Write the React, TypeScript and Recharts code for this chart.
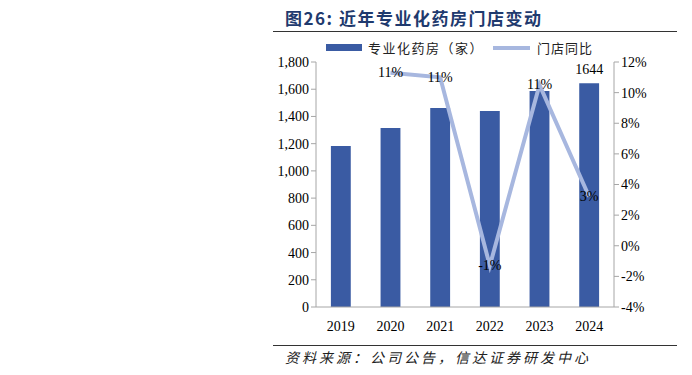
import React from "react";
import { ComposedChart, Bar, Line, XAxis, YAxis, LabelList } from "recharts";

const years = ["2019", "2020", "2021", "2022", "2023", "2024"];
const storeCounts = [1183, 1315, 1462, 1440, 1587, 1644];
const storeYoY = [null, 11.3, 11.0, -1.3, 10.5, 3.2];
const leftTicks = [0, 200, 400, 600, 800, 1000, 1200, 1400, 1600, 1800];
const rightTicks = [-4, -2, 0, 2, 4, 6, 8, 10, 12];

const rows = years.map((year, i) => ({
  year,
  stores: storeCounts[i],
  yoy: storeYoY[i],
}));

const BAR = "#3A5BA3";
const LINE = "#A7B7DF";
const AXIS = "#A6A6A6";
const SERIF = "'Liberation Serif', 'Times New Roman', serif";
const CJK = "'Noto Sans CJK SC', sans-serif";

const tickStyle = { fill: "#000", fontSize: 14, fontFamily: SERIF };

function YoyLabel(props: any) {
  const { x, y, value } = props;
  if (value == null) return null;
  return (
    <text x={x} y={y} textAnchor="middle" dominantBaseline="central" fill="#000" fontSize={14} fontFamily={SERIF}>
      {Math.round(value)}%
    </text>
  );
}

function TopLabel(props: any) {
  const { x, y, width, value, index } = props;
  // only the last bar carries a value label in the source
  if (index !== years.length - 1) return null;
  return (
    <text x={x + width / 2} y={y - 9} textAnchor="middle" fill="#000" fontSize={14} fontFamily={SERIF}>
      {value}
    </text>
  );
}

export default function App() {
  return (
    <div style={{ position: "absolute", left: 0, top: 0, width: 692, height: 375, background: "#fff" }}>
      <div
        style={{
          position: "absolute",
          left: 285,
          top: 5,
          fontFamily: CJK,
          fontWeight: 700,
          fontSize: 17,
          letterSpacing: 1.5,
          color: "#1F3A6E",
          whiteSpace: "nowrap",
        }}
      >
        图26: 近年专业化药房门店变动
      </div>
      <div style={{ position: "absolute", left: 273, top: 31, width: 404, height: 1, background: "#333" }} />

      {/* legend drawn by hand to match the report layout */}
      <div style={{ position: "absolute", left: 326, top: 44, width: 36, height: 7, background: BAR }} />
      <div style={{ position: "absolute", left: 368, top: 38, fontFamily: CJK, fontSize: 13, color: "#222", whiteSpace: "nowrap", letterSpacing: 1.5 }}>
        专业化药房（家）
      </div>
      <div style={{ position: "absolute", left: 493, top: 46, width: 37, height: 4, background: LINE }} />
      <div style={{ position: "absolute", left: 537, top: 38, fontFamily: CJK, fontSize: 13, color: "#222", whiteSpace: "nowrap", letterSpacing: 1 }}>
        门店同比
      </div>

      <div style={{ position: "absolute", left: 0, top: 0 }}>
        <ComposedChart
          width={692}
          height={375}
          data={rows}
          margin={{ top: 62, right: 18, bottom: 38, left: 256 }}
          barCategoryGap="70%"
        >
          <XAxis
            dataKey="year"
            axisLine={{ stroke: AXIS }}
            tickLine={false}
            tick={tickStyle}
            height={30}
            tickMargin={8}
          />
          <YAxis
            yAxisId="left"
            width={60}
            domain={[0, 1800]}
            ticks={leftTicks}
            interval={0}
            tickFormatter={(v: number) => v.toLocaleString("en-US")}
            axisLine={{ stroke: AXIS }}
            tickLine={{ stroke: AXIS }}
            tickSize={5}
            tick={tickStyle}
          />
          <YAxis
            yAxisId="right"
            orientation="right"
            width={60}
            domain={[-4, 12]}
            ticks={rightTicks}
            interval={0}
            tickFormatter={(v: number) => `${v}%`}
            axisLine={{ stroke: AXIS }}
            tickLine={{ stroke: AXIS }}
            tickSize={5}
            tick={tickStyle}
          />
          <Bar yAxisId="left" dataKey="stores" fill={BAR} isAnimationActive={false}>
            <LabelList dataKey="stores" content={<TopLabel />} />
          </Bar>
          <Line
            yAxisId="right"
            dataKey="yoy"
            stroke={LINE}
            strokeWidth={4}
            dot={false}
            activeDot={false}
            connectNulls={false}
            isAnimationActive={false}
          >
            <LabelList dataKey="yoy" content={<YoyLabel />} />
          </Line>
        </ComposedChart>
      </div>

      <div style={{ position: "absolute", left: 273, top: 345, width: 404, height: 1, background: "#333" }} />
      <div
        style={{
          position: "absolute",
          left: 285,
          top: 347,
          fontFamily: CJK,
          fontStyle: "italic",
          fontSize: 14,
          color: "#222",
          whiteSpace: "nowrap",
          letterSpacing: 3,
        }}
      >
        资料来源：公司公告，信达证券研发中心
      </div>
    </div>
  );
}
